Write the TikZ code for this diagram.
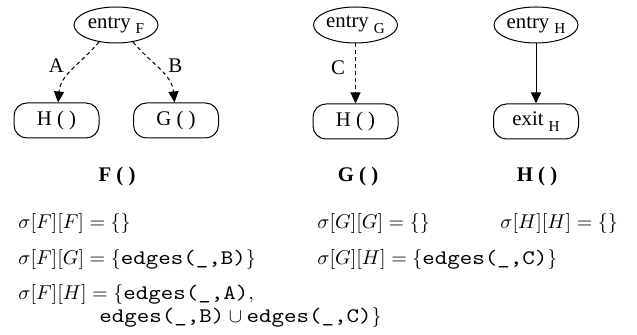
\documentclass[tikz,border=0pt]{standalone}
\usepackage{amsmath}
\usepackage[no-math]{fontspec}
\setmainfont{Liberation Serif}
\newfontfamily\edgefont[FakeStretch=1.15]{lmmono10-regular.otf}
\usetikzlibrary{positioning, arrows.meta, shapes.geometric}

\newcommand{\gfont}{\fontsize{10.4}{12}\selectfont}
\newcommand{\mfont}{\fontsize{10.35}{12}\selectfont}
\newcommand{\gsub}[1]{\hspace{2.5pt}\raisebox{-2.8pt}{\fontsize{7.6}{9}\selectfont #1}}
\newcommand{\edg}[1]{\text{\edgefont edges(\_,#1)}}

\begin{document}
\begin{tikzpicture}[x=0.5pt, y=0.5pt,
  entry/.style={draw, ellipse, line width=0.5pt, minimum width=42pt,
                minimum height=18pt, inner sep=0pt, font=\gfont},
  call/.style={draw, rounded corners=6.5pt, line width=0.5pt,
               minimum width=42.5pt, minimum height=17.5pt,
               inner sep=0pt, font=\gfont},
  fname/.style={font=\gfont\bfseries, inner sep=0pt},
  eq/.style={anchor=base west, inner sep=0pt, font=\mfont},
  arr/.style={-{Triangle[length=5.5pt,width=5pt]}, line width=0.5pt},
  dasharr/.style={arr, dash pattern=on 2pt off 1.5pt},
  elabel/.style={font=\gfont, inner sep=0pt}
]
  \useasboundingbox (0,0) rectangle (637,-335);

  \node[entry] (entryF) at (116,-25)    {entry\gsub{F}};
  \node[call]  (hF)     at (56.5,-120.5) {H ( )};
  \node[call]  (gF)     at (176,-120.5)  {G ( )};
  \node[fname] (labF)   at (117,-177)    {F ( )};

  \node[entry] (entryG) at (355.5,-25)  {entry\gsub{G}};
  \node[call, below=30pt of entryG] (hG) {H ( )};
  \node[fname] (labG)   at (358,-177)   {G ( )};

  \node[entry] (entryH) at (536,-25)    {entry\gsub{H}};
  \node[call, below=30pt of entryH] (exitH) {exit\gsub{H}};
  \node[fname] (labH)   at (537,-177)   {H ( )};

  \draw[dasharr] (entryF.-135) to[out=-130, in=85]
    node[elabel, pos=0.42, left=6pt] {A} (hF);
  \draw[dasharr] (entryF.-45) to[out=-50, in=95]
    node[elabel, pos=0.42, right=6pt] {B} (gF);
  \draw[dasharr] (entryG) -- node[elabel, pos=0.4, left=5pt] {C} (hG);
  \draw[arr] (entryH) -- (exitH);

  \node[eq] (eqFF)  at (18,-229)  {$\sigma[F][F] = \{\}$};
  \node[eq] (eqGG)  at (317,-229) {$\sigma[G][G] = \{\}$};
  \node[eq] (eqHH)  at (500,-229) {$\sigma[H][H] = \{\}$};
  \node[eq] (eqFG)  at (18,-265)  {$\sigma[F][G] = \{\edg{B}\}$};
  \node[eq] (eqGH)  at (317,-265) {$\sigma[G][H] = \{\edg{C}\}$};
  \node[eq] (eqFH)  at (18,-300)  {$\sigma[F][H] = \{\edg{A},$};
  \node[eq] (eqFH2) at (99,-323)  {$\edg{B} \cup \edg{C}\}$};
\end{tikzpicture}
\end{document}
